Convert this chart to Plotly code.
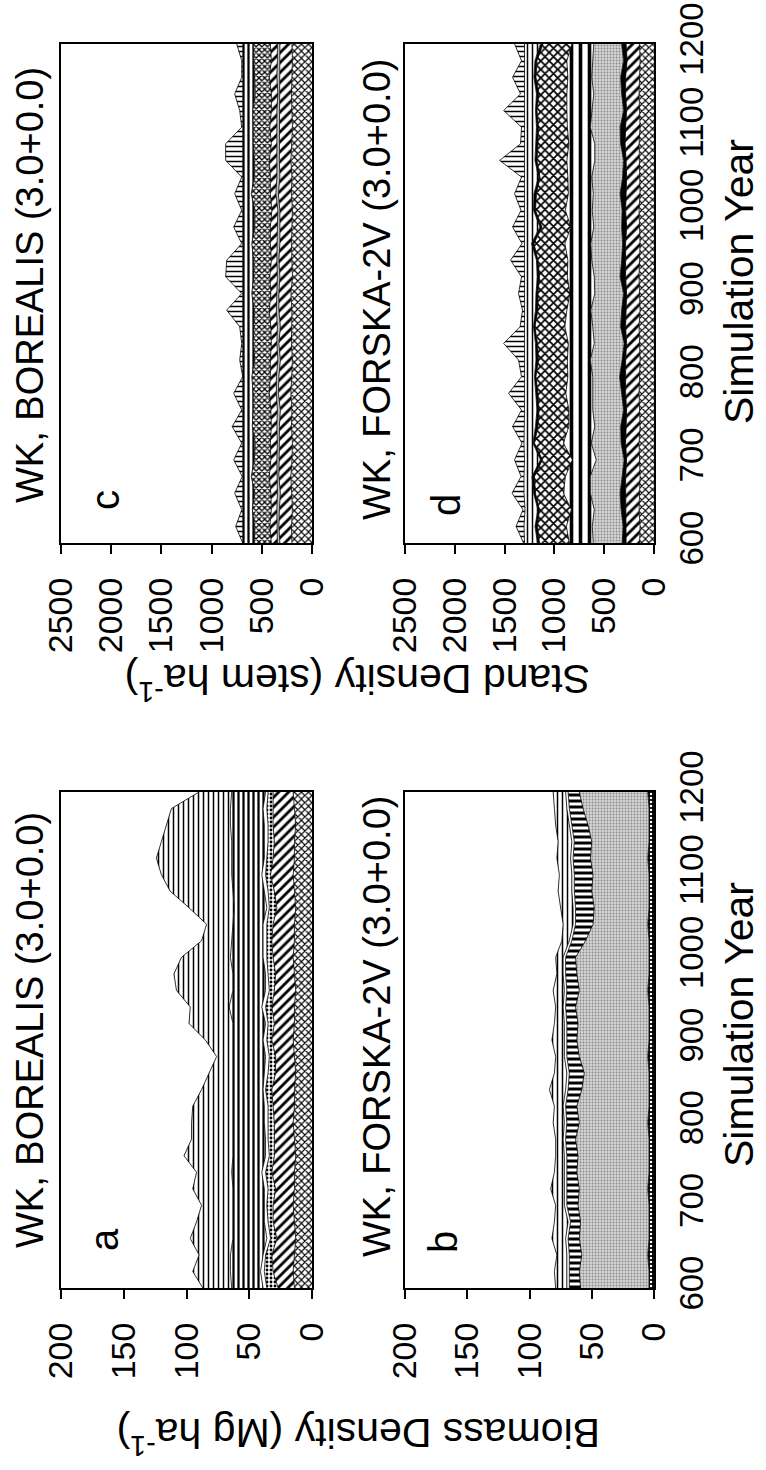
import plotly.graph_objects as go

FONT = "Liberation Sans, Arial, sans-serif"

YEARS = [600, 620, 640, 660, 680, 700, 720, 740, 760, 780, 800, 820, 840, 860, 880, 900,
         920, 940, 960, 980, 1000, 1020, 1040, 1060, 1080, 1100, 1120, 1140, 1160, 1180, 1200]
YEAR_TICKS = [600, 700, 800, 900, 1000, 1100, 1200]
BIO_TICKS = [0, 50, 100, 150, 200]
STEM_TICKS = [0, 500, 1000, 1500, 2000, 2500]

# ---- panel a: biomass, BOREALIS (Mg/ha per layer, bottom -> top)
A_CROSS = [14, 15, 14, 13, 14, 15, 14, 14, 13, 14, 15, 14, 14, 13, 14, 15, 14, 14, 13, 14, 15, 14, 14, 13, 14, 15, 14, 14, 13, 14, 15]
A_DIAG = [13, 16, 18, 15, 17, 16, 15, 18, 17, 16, 15, 17, 18, 16, 15, 17, 16, 18, 17, 15, 16, 18, 17, 15, 16, 18, 17, 16, 18, 17, 16]
A_DOT = [9, 7, 5, 5, 4, 5, 6, 5, 4, 5, 5, 4, 5, 6, 5, 4, 5, 5, 4, 6, 5, 4, 5, 6, 5, 4, 5, 5, 4, 5, 4]
A_WHITE = [3, 3, 2, 3, 3, 2, 3, 3, 3, 2, 3, 3, 2, 3, 3, 3, 2, 3, 3, 2, 3, 3, 3, 2, 3, 3, 2, 3, 3, 3, 2]
A_VBOLD = [25, 24, 26, 27, 25, 25, 25, 24, 26, 26, 25, 25, 24, 25, 26, 24, 26, 26, 26, 26, 26, 25, 24, 26, 25, 24, 26, 26, 27, 26, 27]
A_VTHIN = [23, 30, 25, 34, 29, 25, 32, 28, 39, 33, 33, 32, 25, 19, 13, 22, 35, 31, 45, 47, 39, 24, 21, 36, 50, 56, 60, 56, 51, 47, 26]

# ---- panel b: biomass, FORSKA-2V
B_DARK = [4, 4, 5, 4, 4, 4, 5, 4, 4, 4, 5, 4, 4, 4, 5, 4, 4, 4, 5, 4, 4, 4, 5, 4, 4, 4, 5, 4, 4, 4, 5]
B_GREY = [55, 56, 53, 56, 55, 57, 55, 58, 57, 59, 55, 58, 54, 52, 55, 58, 57, 59, 55, 58, 59, 51, 44, 44, 46, 45, 46, 46, 49, 53, 55]
B_BARS = [9, 8, 10, 9, 8, 9, 10, 8, 9, 8, 10, 9, 11, 12, 10, 8, 9, 8, 10, 9, 8, 11, 14, 15, 14, 15, 14, 14, 13, 11, 9]
B_WHITE = [2, 2, 2, 2, 2, 2, 2, 2, 2, 2, 2, 2, 2, 2, 2, 2, 2, 2, 2, 2, 2, 2, 2, 2, 2, 2, 2, 2, 2, 2, 2]
B_VLINE = [9, 10, 8, 11, 11, 7, 11, 8, 7, 6, 9, 7, 13, 10, 7, 10, 8, 6, 9, 5, 6, 6, 8, 10, 11, 10, 11, 11, 11, 10, 10]

# ---- panel c: stand density, BOREALIS (stems/ha per layer)
C_CROSS = [200, 205, 195, 200, 210, 200, 195, 205, 200, 210, 200, 195, 205, 200, 200, 210, 195, 200, 205, 200, 195, 205, 200, 210, 200, 195, 200, 205, 200, 195, 200]
C_DIAG1 = [120, 125, 130, 115, 120, 125, 130, 120, 115, 125, 130, 120, 125, 115, 130, 120, 125, 130, 115, 120, 125, 130, 120, 115, 125, 130, 120, 115, 125, 130, 120]
C_GREY = [25, 20, 25, 30, 20, 25, 20, 25, 30, 20, 25, 25, 20, 30, 25, 20, 25, 20, 30, 25, 20, 25, 30, 25, 20, 25, 30, 20, 25, 20, 25]
C_DIAG2 = [60, 70, 55, 65, 75, 60, 70, 55, 65, 70, 60, 75, 55, 65, 70, 60, 75, 55, 65, 70, 60, 55, 65, 75, 60, 70, 55, 65, 75, 60, 70]
C_CHECK = [170, 150, 190, 160, 180, 165, 150, 190, 175, 160, 185, 155, 180, 170, 150, 190, 160, 175, 185, 155, 170, 190, 160, 150, 180, 165, 185, 160, 150, 175, 170]
C_VLINE = [115, 120, 95, 120, 90, 115, 125, 100, 105, 105, 90, 120, 105, 110, 115, 90, 110, 110, 90, 120, 120, 85, 115, 115, 105, 105, 100, 125, 115, 110, 105]
C_SPIKE = [0, 70, 10, 80, 0, 90, 10, 100, 10, 90, 0, 30, 10, 30, 160, 10, 170, 160, 10, 90, 10, 80, 10, 170, 170, 10, 30, 80, 10, 10, 60]

# ---- panel d: stand density, FORSKA-2V
D_CROSS = [145, 140, 150, 145, 140, 145, 150, 140, 145, 150, 145, 140, 145, 150, 140, 145, 150, 145, 140, 145, 150, 140, 145, 145, 150, 140, 145, 150, 145, 140, 145]
D_DIAG = [135, 140, 130, 135, 145, 130, 135, 140, 130, 135, 140, 145, 130, 135, 140, 130, 135, 140, 145, 130, 135, 140, 130, 135, 140, 145, 130, 135, 140, 130, 135]
D_BLACK = [40, 30, 50, 60, 35, 25, 45, 55, 30, 40, 60, 35, 25, 50, 45, 30, 55, 40, 30, 50, 35, 60, 40, 25, 45, 55, 30, 40, 50, 35, 45]
D_GREY = [290, 310, 270, 300, 320, 280, 300, 260, 310, 290, 270, 320, 300, 280, 310, 290, 260, 300, 320, 280, 300, 270, 310, 290, 260, 300, 320, 280, 290, 310, 280]
D_VBOLD = [240, 260, 230, 270, 250, 240, 280, 260, 240, 270, 250, 230, 260, 280, 240, 250, 270, 240, 260, 230, 270, 250, 240, 280, 260, 230, 250, 270, 240, 260, 220]
D_CHEV = [300, 290, 320, 280, 310, 300, 290, 310, 300, 280, 320, 290, 310, 300, 290, 320, 280, 300, 310, 290, 300, 320, 280, 300, 310, 290, 300, 280, 320, 300, 290]
D_BLACK2 = [20, 25, 15, 20, 25, 20, 15, 25, 20, 20, 15, 25, 20, 15, 25, 20, 20, 15, 25, 20, 20, 25, 15, 20, 25, 20, 15, 25, 20, 20, 25]
D_VTHIN = [130, 110, 130, 95, 80, 160, 90, 110, 125, 115, 100, 115, 110, 95, 110, 115, 130, 120, 75, 155, 95, 95, 140, 105, 110, 120, 110, 120, 95, 105, 160]
D_SPIKE = [10, 80, 20, 120, 30, 100, 20, 120, 30, 160, 30, 60, 210, 40, 20, 60, 30, 140, 20, 120, 30, 100, 30, 250, 40, 30, 210, 40, 120, 30, 100]

# ---- fill styles (hatch patterns)
def pat(shape, size, solidity, fg="black", bg="white"):
    return dict(fillcolor=bg, fillpattern=dict(shape=shape, size=size, solidity=solidity,
                                              fgcolor=fg, bgcolor=bg, fillmode="replace"))

STYLES = {
    "cross": pat("x", 5, 0.4),
    "diag": pat("/", 7, 0.4),
    "dot": pat(".", 4, 0.4),
    "white": dict(fillcolor="white", fillpattern=None),
    "vbold": pat("|", 5, 0.45),
    "vthin": pat("|", 5, 0.3),
    "darkdot": pat(".", 4, 0.3, fg="white", bg="black"),
    "grey": pat(".", 3, 0.3, fg="#8a8a8a", bg="#d4d4d4"),
    "bars": pat("-", 6, 0.5),
    "check": pat("x", 4, 0.55),
    "lgrey": dict(fillcolor="#bdbdbd", fillpattern=None),
    "black": dict(fillcolor="black", fillpattern=None),
    "vwide": pat("|", 9, 0.4),
    "chev": pat("x", 6, 0.5),
    "spike": pat("-", 5, 0.3),
}

PANELS = [
    dict(key="a", xa="x", ya="y",
         layers=[(A_CROSS, "cross"), (A_DIAG, "diag"), (A_DOT, "dot"), (A_WHITE, "white"),
                 (A_VBOLD, "vbold"), (A_VTHIN, "vthin")]),
    dict(key="b", xa="x2", ya="y2",
         layers=[(B_DARK, "darkdot"), (B_GREY, "grey"), (B_BARS, "bars"), (B_WHITE, "white"),
                 (B_VLINE, "vthin")]),
    dict(key="c", xa="x3", ya="y3",
         layers=[(C_CROSS, "cross"), (C_DIAG1, "diag"), (C_GREY, "lgrey"), (C_DIAG2, "diag"),
                 (C_CHECK, "check"), (C_VLINE, "vbold"), (C_SPIKE, "spike")]),
    dict(key="d", xa="x4", ya="y4",
         layers=[(D_CROSS, "cross"), (D_DIAG, "diag"), (D_BLACK, "black"), (D_GREY, "grey"),
                 (D_VBOLD, "vwide"), (D_CHEV, "chev"), (D_BLACK2, "black"), (D_VTHIN, "vthin"),
                 (D_SPIKE, "spike")]),
]

fig = go.Figure()
for p in PANELS:
    for vals, st in p["layers"]:
        s = STYLES[st]
        kw = dict(fillcolor=s["fillcolor"])
        if s.get("fillpattern"):
            kw["fillpattern"] = s["fillpattern"]
        fig.add_trace(go.Scatter(
            x=vals, y=YEARS, xaxis=p["xa"], yaxis=p["ya"], mode="lines",
            stackgroup=p["key"], orientation="h",
            line=dict(color="black", width=0.8), hoverinfo="skip", showlegend=False, **kw))

W, H = 766, 1470
def px(x): return x / W
def py(y): return 1 - y / H

# panel boxes in pixel coords (left, right, top, bottom)
BOX = {"a": (61, 312, 792, 1288), "b": (405, 654, 792, 1288),
       "c": (61, 312, 44, 543), "d": (405, 654, 44, 543)}

tickfont = dict(family=FONT, size=34, color="black")
yearfont = dict(family=FONT, size=33, color="black")

def value_axis(box, rng, tv, anchor):
    l, r, t, b = box
    return dict(domain=[px(l), px(r)], range=rng, tickvals=tv, ticktext=[str(v) for v in tv],
                ticks="outside", ticklen=9, tickwidth=2, tickcolor="black", tickangle=-90,
                showline=True, mirror=True, linecolor="black", linewidth=2,
                showgrid=False, zeroline=False, tickfont=tickfont, anchor=anchor,
                ticklabelstandoff=10, fixedrange=True, automargin=False)

def year_axis(box, anchor, labels):
    l, r, t, b = box
    return dict(domain=[py(b), py(t)], range=[600, 1200], tickvals=YEAR_TICKS,
                ticktext=[str(v) for v in YEAR_TICKS], showticklabels=labels, side="right",
                ticks="", tickangle=-90, showline=True, mirror=True, linecolor="black",
                linewidth=2, showgrid=False, zeroline=False, tickfont=yearfont, anchor=anchor,
                ticklabelstandoff=7, fixedrange=True, automargin=False)

layout = dict(
    template="none",
    width=W, height=H, margin=dict(l=0, r=0, t=0, b=0, pad=0, autoexpand=False),
    paper_bgcolor="white", plot_bgcolor="white", showlegend=False,
    font=dict(family=FONT, color="black"),
    xaxis=value_axis(BOX["a"], [200, 0], BIO_TICKS, "y"),
    yaxis=year_axis(BOX["a"], "x", False),
    xaxis2=value_axis(BOX["b"], [200, 0], BIO_TICKS, "y2"),
    yaxis2=year_axis(BOX["b"], "x2", True),
    xaxis3=value_axis(BOX["c"], [2500, 0], STEM_TICKS, "y3"),
    yaxis3=year_axis(BOX["c"], "x3", False),
    xaxis4=value_axis(BOX["d"], [2500, 0], STEM_TICKS, "y4"),
    yaxis4=year_axis(BOX["d"], "x4", True),
)

def ann(text, x, y, size, angle):
    return dict(text=text, x=px(x), y=py(y), xref="paper", yref="paper",
                xanchor="center", yanchor="middle", showarrow=False, textangle=angle,
                font=dict(family=FONT, size=size, color="black"))

annotations = [
    ann("WK, BOREALIS (3.0+0.0)", 30, 1030, 38, -90),
    ann("WK, FORSKA-2V (3.0+0.0)", 377, 1027, 38, -90),
    ann("WK, BOREALIS (3.0+0.0)", 30, 285, 38, -90),
    ann("WK, FORSKA-2V (3.0+0.0)", 377, 290, 38, -90),
    ann("a", 104, 1240, 40, -90),
    ann("b", 443, 1242, 40, -90),
    ann("c", 105, 500, 40, -90),
    ann("d", 446, 505, 40, -90),
    ann("Biomass Density (Mg ha<sup>-1</sup>)", 358, 1436, 41, 180),
    ann("Stand Density (stem ha<sup>-1</sup>)", 358, 682, 41, 180),
    ann("Simulation Year", 739, 1025, 41, -90),
    ann("Simulation Year", 739, 282, 41, -90),
]
layout["annotations"] = annotations

fig.update_layout(**layout)
fig.write_html("out.html")
